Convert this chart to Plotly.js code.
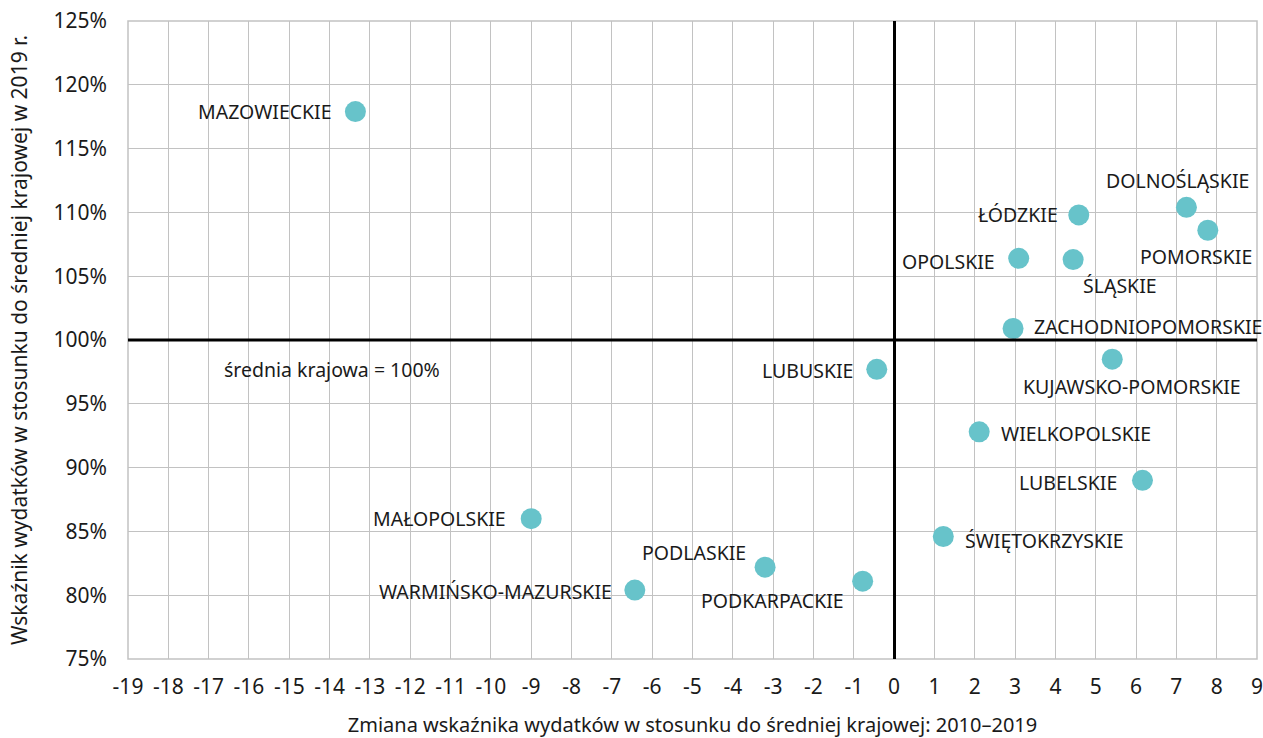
<!DOCTYPE html>
<html>
<head>
<meta charset="utf-8">
<script src="https://cdn.plot.ly/plotly-3.0.1.min.js"></script>
<style>html,body{margin:0;padding:0;background:#fff;}#chart{width:1263px;height:738px;}</style>
</head>
<body>
<div id="chart"></div>
<script>
const regions = ["MAZOWIECKIE","DOLNOŚLĄSKIE","POMORSKIE","ŁÓDZKIE","OPOLSKIE","ŚLĄSKIE","ZACHODNIOPOMORSKIE","KUJAWSKO-POMORSKIE","LUBUSKIE","WIELKOPOLSKIE","LUBELSKIE","ŚWIĘTOKRZYSKIE","MAŁOPOLSKIE","PODLASKIE","PODKARPACKIE","WARMIŃSKO-MAZURSKIE"];
const changeX = [-13.36, 7.25, 7.78, 4.58, 3.09, 4.44, 2.95, 5.41, -0.43, 2.11, 6.16, 1.22, -9.00, -3.20, -0.78, -6.43];
const index2019 = [117.9, 110.4, 108.6, 109.8, 106.4, 106.3, 100.9, 98.5, 97.7, 92.8, 89.0, 84.6, 86.0, 82.2, 81.1, 80.4];
const xTicks = [-19,-18,-17,-16,-15,-14,-13,-12,-11,-10,-9,-8,-7,-6,-5,-4,-3,-2,-1,0,1,2,3,4,5,6,7,8,9];
const yTicks = [75,80,85,90,95,100,105,110,115,120,125];
const yTickLabels = yTicks.map(v => v + "%");

// label placement styles (anchor side and pixel offset from the marker)
const labelAnchor = ["right","center","center","right","right","left","left","center","right","left","right","left","right","right","right","right"];
const labelDX = [-21, -9, -12, -19, -22, 8, 19, 20, -22, 20, -23, 20, -23, -17, -17, -21];
const labelDY = [0, 27, -26, 0, -3, -26, 2, -27, -1, -2, -2, -4, 0, 15, -19, -1];

const FONT = "Noto Sans, Open Sans, sans-serif";
const TXT = "#1a1a1a";

const trace = {
  type: "scatter",
  mode: "markers",
  x: changeX,
  y: index2019,
  marker: {size: 21, color: "#67C3CA"},
  hoverinfo: "skip",
  cliponaxis: false
};

const labelAnnotations = regions.map((r, i) => ({
  x: changeX[i], y: index2019[i], xref: "x", yref: "y",
  text: r, showarrow: false,
  xanchor: labelAnchor[i], yanchor: "middle",
  xshift: labelDX[i], yshift: labelDY[i],
  font: {family: FONT, size: 19.5, color: TXT}
}));

const layout = {
  width: 1263,
  height: 738,
  margin: {l: 128, r: 6, t: 21, b: 79},
  paper_bgcolor: "#fff",
  plot_bgcolor: "#fff",
  showlegend: false,
  font: {family: FONT, size: 19, color: TXT},
  xaxis: {
    range: [-19, 9],
    tickvals: xTicks,
    ticktext: xTicks.map(String),
    showgrid: true,
    gridcolor: "#c2c2c2",
    gridwidth: 1,
    zeroline: true,
    zerolinecolor: "#000",
    zerolinewidth: 3,
    showline: false,
    ticks: "",
    ticklabelstandoff: 13,
    ticklabeloverflow: "allow",
    tickfont: {family: FONT, size: 21, color: TXT},
    title: {text: "Zmiana wskaźnika wydatków w stosunku do średniej krajowej: 2010–2019", font: {family: FONT, size: 20, color: TXT}, standoff: 19}
  },
  yaxis: {
    range: [75, 125],
    tickvals: yTicks,
    ticktext: yTickLabels,
    showgrid: true,
    gridcolor: "#c2c2c2",
    gridwidth: 1,
    zeroline: false,
    showline: false,
    ticks: "",
    ticklabelstandoff: 20,
    ticklabeloverflow: "allow",
    tickfont: {family: FONT, size: 21, color: TXT},
    title: {text: "Wskaźnik wydatków w stosunku do średniej krajowej w 2019 r.", font: {family: FONT, size: 21, color: TXT}, standoff: 20}
  },
  shapes: [
    {type: "rect", xref: "paper", yref: "paper", x0: 0, x1: 1, y0: 0, y1: 1, line: {color: "#c2c2c2", width: 1.5}, layer: "below"},
    {type: "line", xref: "paper", x0: 0, x1: 1, yref: "y", y0: 100, y1: 100, line: {color: "#000", width: 3}}
  ],
  annotations: labelAnnotations.concat([
    {x: -16.66, y: 97.7, xref: "x", yref: "y", xanchor: "left", yanchor: "middle", showarrow: false,
     text: "średnia krajowa = 100%", font: {family: FONT, size: 19.5, color: TXT}}
  ])
};

Plotly.newPlot("chart", [trace], layout, {displayModeBar: false, staticPlot: true});
</script>
</body>
</html>
